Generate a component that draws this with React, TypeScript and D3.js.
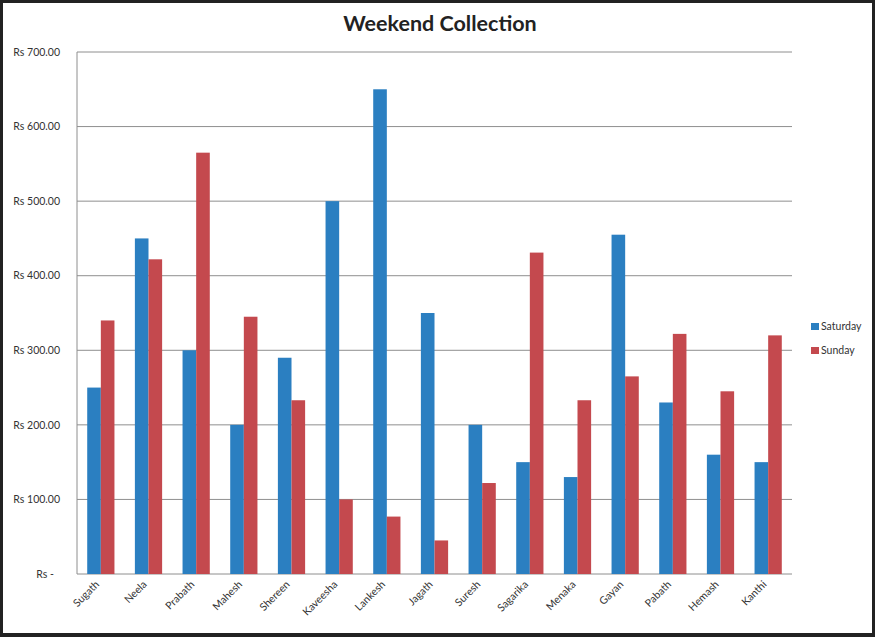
import React from "react";
import * as d3 from "d3";

const categories = ["Sugath","Neela","Prabath","Mahesh","Shereen","Kaveesha","Lankesh","Jagath","Suresh","Sagarika","Menaka","Gayan","Pabath","Hemash","Kanthi"];
const saturday = [250,450,300,200,290,500,650,350,200,150,130,455,230,160,150];
const sunday = [340,422,565,345,233,100,77,45,122,431,233,265,322,245,320];
const seriesNames = ["Saturday","Sunday"];
const yTicks = [0,100,200,300,400,500,600,700];
const title = "Weekend Collection";

const W = 875, H = 637;
const colors = ["#2b7fc1", "#c4494e"];
const font = "Lato, 'Open Sans', sans-serif";

export default function App() {
  const left = 77, right = 792, top = 52, bottom = 574;
  const x = d3.scaleBand<string>().domain(categories).range([left, right]).paddingInner(0).paddingOuter(0);
  const y = d3.scaleLinear().domain([0, 700]).range([bottom, top]);
  const bw = x.bandwidth();
  const barW = bw / 3.5;
  const fmt = (v: number) => (v === 0 ? "Rs -" : "Rs " + d3.format(",.2f")(v));
  const series = [saturday, sunday];

  return (
    <svg width={W} height={H} style={{ position: "fixed", left: 0, top: 0, background: "#fff" }} fontFamily={font}>
      <rect x={0} y={0} width={W} height={H} fill="#fff" />
      {yTicks.map((t) => (
        <g key={t}>
          <line x1={left} x2={right} y1={y(t)} y2={y(t)} stroke="#8e8e8e" strokeWidth={1} />
          <text x={t === 0 ? 54 : 60} y={y(t)} dy="0.35em" textAnchor="end" fontSize={10.5} fill="#333">{fmt(t)}</text>
        </g>
      ))}
      <line x1={left} x2={left} y1={top} y2={bottom} stroke="#8e8e8e" strokeWidth={1} />
      {categories.map((c, i) => {
        const cx = (x(c) as number) + bw / 2;
        return (
          <g key={c}>
            {series.map((s, k) => (
              <rect key={k} x={cx - barW + k * barW} y={y(s[i])} width={barW} height={bottom - y(s[i])} fill={colors[k]} />
            ))}
            <text transform={`translate(${cx - 1},${bottom + 11}) rotate(-45)`} textAnchor="end" fontSize={10.5} fill="#333">{c}</text>
          </g>
        );
      })}
      <text x={440} y={31} textAnchor="middle" fontSize={21.5} fontWeight="bold" fill="#222">{title}</text>
      {seriesNames.map((n, k) => (
        <g key={n} transform={`translate(811,${323 + k * 24})`}>
          <rect x={0} y={0} width={8} height={7} fill={colors[k]} />
          <text x={10} y={3.5} dy="0.35em" fontSize={10.5} fill="#333">{n}</text>
        </g>
      ))}
      <rect x={1.5} y={1.5} width={W - 3} height={H - 4} fill="none" stroke="#222" strokeWidth={3} />
      <rect x={0} y={H - 4} width={W} height={4} fill="#222" />
    </svg>
  );
}
